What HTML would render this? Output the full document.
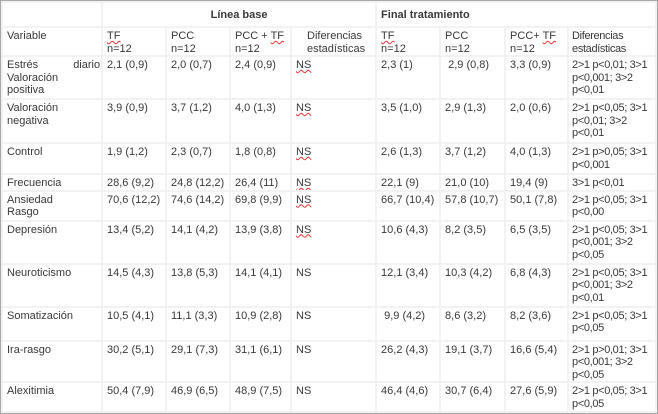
<!DOCTYPE html>
<html><head><meta charset="utf-8"><style>
html,body{margin:0;padding:0;background:#fff;width:658px;height:413px;overflow:hidden}
table{position:absolute;left:0;top:0;border:1px solid #a8a8a8;border-spacing:2px;background:#f2f2f2;table-layout:fixed;width:656px;font-family:"Liberation Sans",Arial,sans-serif;font-size:11px;color:#3a3a3a;line-height:12.5px}
td{background:#fff;vertical-align:top;padding:2px 2px 0 4px;overflow:hidden;white-space:nowrap}
td:last-child{letter-spacing:-0.35px;padding-left:3px;padding-right:0}
.s{text-decoration:underline wavy #e33;text-decoration-thickness:1px}
th{background:#fff;font-weight:bold;padding:2px 4px 0;vertical-align:top;text-align:left}
.sp{display:inline-block;width:35px}
</style></head><body>
<table>
<colgroup><col style="width:98px"><col style="width:62px"><col style="width:62px"><col style="width:59px"><col style="width:83px"><col style="width:62px"><col style="width:63px"><col style="width:61px"><col style="width:86px"></colgroup>
<tr style="height:23px"><th></th><th colspan="4" style="text-align:center;padding-top:6px">Línea base</th><th colspan="4" style="padding-top:6px">Final tratamiento</th></tr>
<tr style="height:26px"><td>Variable</td><td><span class="s">TF</span><br>n=12</td><td>PCC<br>n=12</td><td>PCC + <span class="s">TF</span><br>n=12</td><td style="padding-left:15px">Diferencias<br>estadísticas</td><td><span class="s">TF</span><br>n=12</td><td>PCC<br>n=12</td><td>PCC+ <span class="s">TF</span><br>n=12</td><td>Diferencias<br>estadísticas</td></tr>
<tr style="height:41px"><td>Estrés<span class="sp"></span>diario<br>Valoración<br>positiva</td><td>2,1 (0,9)</td><td>2,0 (0,7)</td><td>2,4 (0,9)</td><td><span class="s">NS</span></td><td>2,3 (1)</td><td>&nbsp;2,9 (0,8)</td><td>3,3 (0,9)</td><td>2&gt;1 p&lt;0,01; 3&gt;1<br>p&lt;0,001; 3&gt;2<br>p&lt;0,01</td></tr>
<tr style="height:42px"><td>Valoración<br>negativa</td><td>3,9 (0,9)</td><td>3,7 (1,2)</td><td>4,0 (1,3)</td><td><span class="s">NS</span></td><td>3,5 (1,0)</td><td>2,9 (1,3)</td><td>2,0 (0,6)</td><td>2&gt;1 p&lt;0,05; 3&gt;1<br>p&lt;0,01; 3&gt;2<br>p&lt;0,01</td></tr>
<tr style="height:29px"><td>Control</td><td>1,9 (1,2)</td><td>2,3 (0,7)</td><td>1,8 (0,8)</td><td><span class="s">NS</span></td><td>2,6 (1,3)</td><td>3,7 (1,2)</td><td>4,0 (1,3)</td><td>2&gt;1 p&gt;0,05; 3&gt;1<br>p&lt;0,001</td></tr>
<tr style="height:14px"><td>Frecuencia</td><td>28,6 (9,2)</td><td>24,8 (12,2)</td><td>26,4 (11)</td><td><span class="s">NS</span></td><td>22,1 (9)</td><td>21,0 (10)</td><td>19,4 (9)</td><td>3&gt;1 p&lt;0,01</td></tr>
<tr style="height:28px"><td>Ansiedad<br>Rasgo</td><td>70,6 (12,2)</td><td>74,6 (14,2)</td><td>69,8 (9,9)</td><td><span class="s">NS</span></td><td>66,7 (10,4)</td><td>57,8 (10,7)</td><td>50,1 (7,8)</td><td>2&gt;1 p&lt;0,05; 3&gt;1<br>p&lt;0,00</td></tr>
<tr style="height:41px"><td>Depresión</td><td>13,4 (5,2)</td><td>14,1 (4,2)</td><td>13,9 (3,8)</td><td><span class="s">NS</span></td><td>10,6 (4,3)</td><td>8,2 (3,5)</td><td>6,5 (3,5)</td><td>2&gt;1 p&lt;0,05; 3&gt;1<br>p&lt;0,001; 3&gt;2<br>p&lt;0,05</td></tr>
<tr style="height:41px"><td>Neuroticismo</td><td>14,5 (4,3)</td><td>13,8 (5,3)</td><td>14,1 (4,1)</td><td>NS</td><td>12,1 (3,4)</td><td>10,3 (4,2)</td><td>6,8 (4,3)</td><td>2&gt;1 p&lt;0,05; 3&gt;1<br>p&lt;0,001; 3&gt;2<br>p&lt;0,01</td></tr>
<tr style="height:32px"><td>Somatización</td><td>10,5 (4,1)</td><td>11,1 (3,3)</td><td>10,9 (2,8)</td><td>NS</td><td>&nbsp;9,9 (4,2)</td><td>8,6 (3,2)</td><td>8,2 (3,6)</td><td>2&gt;1 p&lt;0,05; 3&gt;1<br>p&lt;0,05</td></tr>
<tr style="height:37px"><td>Ira-rasgo</td><td>30,2 (5,1)</td><td>29,1 (7,3)</td><td>31,1 (6,1)</td><td>NS</td><td>26,2 (4,3)</td><td>19,1 (3,7)</td><td>16,6 (5,4)</td><td>2&gt;1 p&gt;0,01; 3&gt;1<br>p&lt;0,001; 3&gt;2<br>p&lt;0,05</td></tr>
<tr style="height:28px"><td>Alexitimia</td><td>50,4 (7,9)</td><td>46,9 (6,5)</td><td>48,9 (7,5)</td><td>NS</td><td>46,4 (4,6)</td><td>30,7 (6,4)</td><td>27,6 (5,9)</td><td>2&gt;1 p&lt;0,05; 3&gt;1<br>p&lt;0,05</td></tr>
</table>
</body></html>
